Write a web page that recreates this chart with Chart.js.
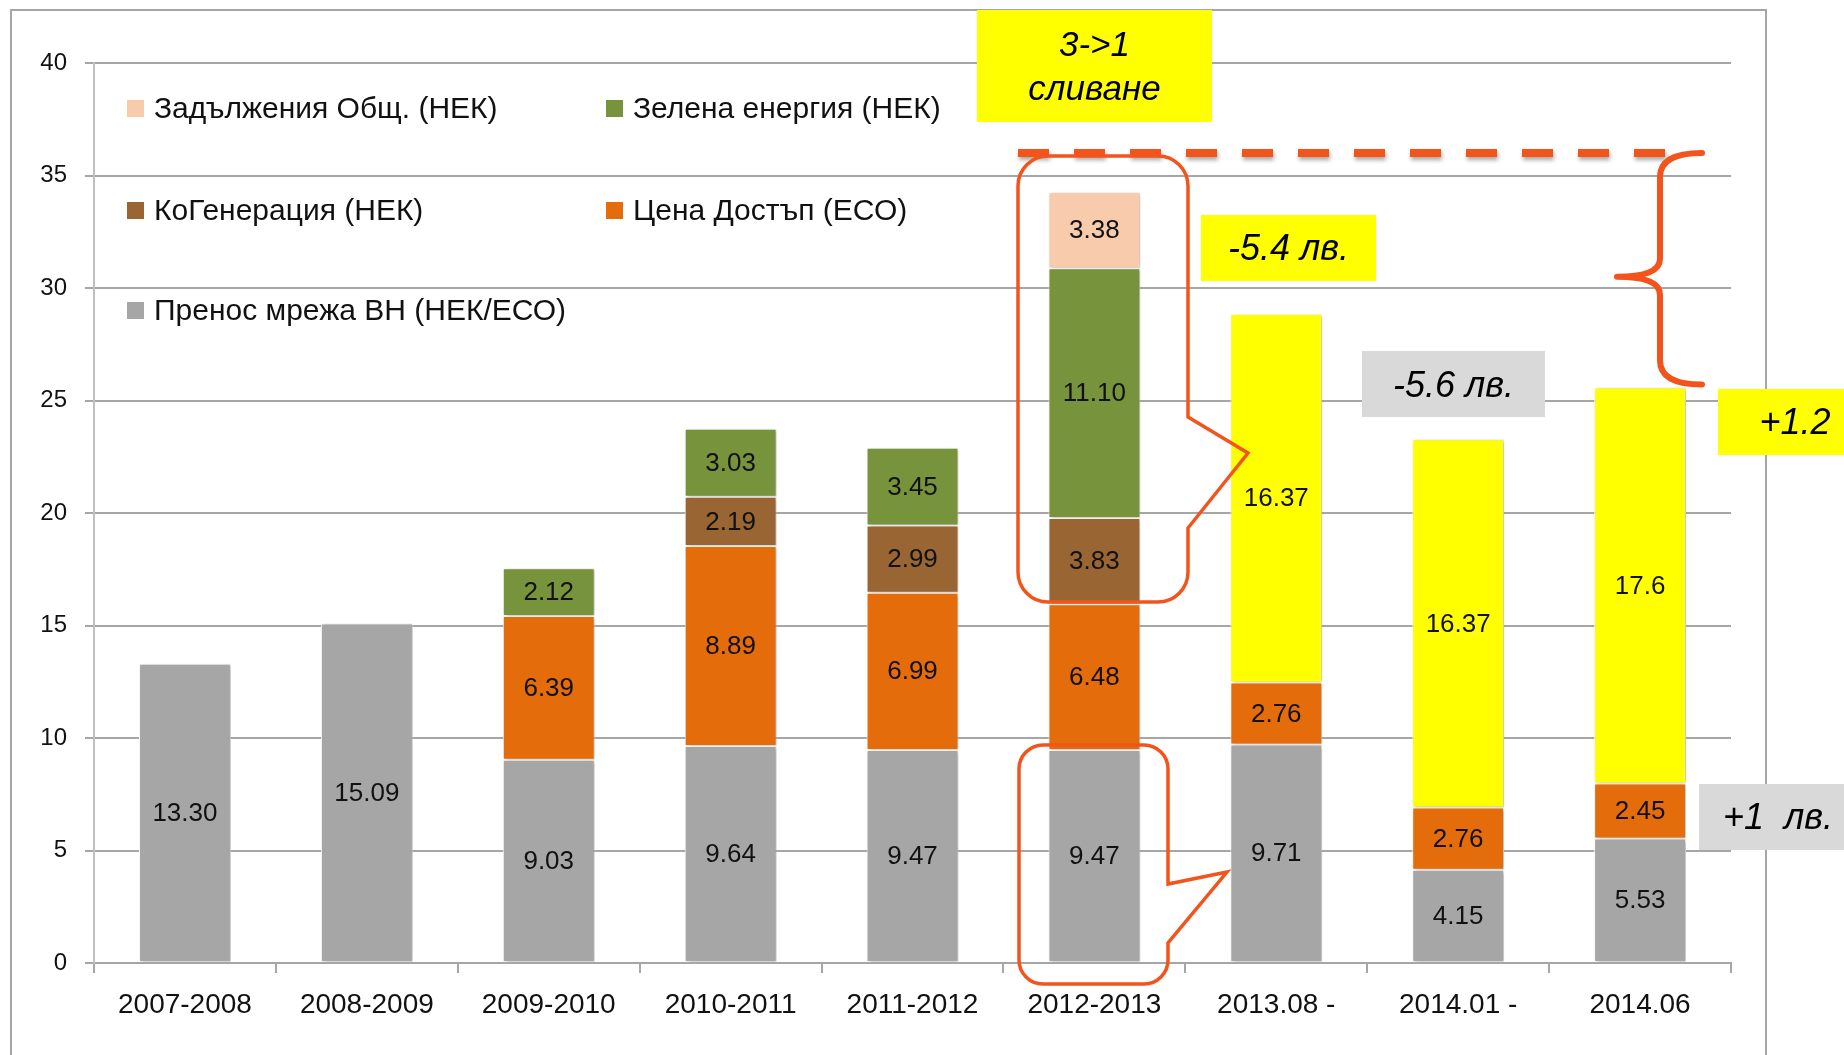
<!DOCTYPE html>
<html>
<head>
<meta charset="utf-8">
<title>Цена пренос / достъп</title>
<script src="https://cdn.jsdelivr.net/npm/chart.js@4.4.1/dist/chart.umd.min.js"></script>
<style>
  html, body { margin:0; padding:0; background:#fff; }
  #wrap { width:1844px; height:1055px; }
</style>
</head>
<body>
<div id="wrap"><canvas id="chart" width="1844" height="1055"></canvas></div>
<script>
/* DATA */
const periods   = ["2007-2008","2008-2009","2009-2010","2010-2011","2011-2012","2012-2013","2013.08 -","2014.01 -","2014.06"];
const transfer  = [13.30, 15.09, 9.03, 9.64, 9.47, 9.47, 9.71, 4.15, 5.53];   // Пренос мрежа ВН
const access    = [null, null, 6.39, 8.89, 6.99, 6.48, 2.76, 2.76, 2.45];     // Цена Достъп
const cogen     = [null, null, null, 2.19, 2.99, 3.83, null, null, null];     // КоГенерация
const green     = [null, null, 2.12, 3.03, 3.45, 11.10, null, null, null];    // Зелена енергия
const publicObl = [null, null, null, null, null, 3.38, null, null, null];     // Задължения Общ.
const merged    = [null, null, null, null, null, null, 16.37, 16.37, 17.6];   // след сливането
const yTicks    = [0, 5, 10, 15, 20, 25, 30, 35, 40];

/* STYLE */
const FONT = '"Liberation Sans", Arial, sans-serif';
const C_GRAY = "#A6A6A6", C_ORANGE = "#E46C0A", C_BROWN = "#996633",
      C_GREEN = "#77933C", C_PEACH = "#F8CBAD", C_YELLOW = "#FFFF00";
const C_LINE = "#F2541B";

const series = [
  { label:"Пренос мрежа ВН (НЕК/ЕСО)", data:transfer,  color:C_GRAY,   dec:2 },
  { label:"Цена Достъп (ЕСО)",        data:access,    color:C_ORANGE, dec:2 },
  { label:"КоГенерация (НЕК)",        data:cogen,     color:C_BROWN,  dec:2 },
  { label:"Зелена енергия (НЕК)",     data:green,     color:C_GREEN,  dec:2 },
  { label:"Задължения Общ. (НЕК)",    data:publicObl, color:C_PEACH,  dec:2 },
  { label:"",                          data:merged,    color:C_YELLOW, dec:null }
];

/* PLUGINS */
// soft shadow behind bars (Excel look)
const barShadow = {
  id:"barShadow",
  beforeDatasetsDraw(chart){
    const ctx = chart.ctx;
    ctx.save();
    ctx.shadowColor = "rgba(0,0,0,0.28)";
    ctx.shadowBlur = 4; ctx.shadowOffsetX = 2; ctx.shadowOffsetY = 1;
  },
  afterDatasetsDraw(chart){ chart.ctx.restore(); }
};

// numbers in the middle of every segment
const segLabels = {
  id:"segLabels",
  afterDatasetsDraw(chart){
    const ctx = chart.ctx;
    ctx.save();
    ctx.font = `26px ${FONT}`; ctx.fillStyle = "#111";
    ctx.textAlign = "center"; ctx.textBaseline = "middle";
    chart.data.datasets.forEach((ds, di)=>{
      const meta = chart.getDatasetMeta(di);
      meta.data.forEach((bar, i)=>{
        const v = ds.data[i];
        if(v == null) return;
        const p = bar.getProps(["x","y","base"], true);
        const txt = series[di].dec == null ? String(v) : v.toFixed(series[di].dec);
        ctx.fillText(txt, p.x, (p.y + p.base)/2 + 1);
      });
    });
    ctx.restore();
  }
};

function callout(ctx, l, t, r, b, rad, p){
  ctx.beginPath();
  ctx.moveTo(l+rad, t);
  ctx.lineTo(r-rad, t);
  ctx.arcTo(r, t, r, t+rad, rad);
  ctx.lineTo(r, p[0]);
  ctx.lineTo(p[1], p[2]);
  ctx.lineTo(r, p[3]);
  ctx.lineTo(r, b-rad);
  ctx.arcTo(r, b, r-rad, b, rad);
  ctx.lineTo(l+rad, b);
  ctx.arcTo(l, b, l, b-rad, rad);
  ctx.lineTo(l, t+rad);
  ctx.arcTo(l, t, l+rad, t, rad);
  ctx.closePath();
  ctx.stroke();
}

// filled box with text lines at given y positions
function box(ctx, x, y, w, h, fill, lines, font, tx){
  ctx.fillStyle = fill;
  ctx.fillRect(x, y, w, h);
  ctx.fillStyle = "#000";
  ctx.font = font;
  ctx.textAlign = "center"; ctx.textBaseline = "middle";
  const cx = tx == null ? x + w/2 : tx;
  lines.forEach(([s, ly])=> ctx.fillText(s, cx, ly));
}

// frame, legend, annotations
const overlay = {
  id:"overlay",
  afterDraw(chart){
    const ctx = chart.ctx, yS = chart.scales.y;
    ctx.save();

    // outer frame
    ctx.strokeStyle = "#A6A6A6"; ctx.lineWidth = 2;
    ctx.strokeRect(11, 10, 1755, 1100);

    // legend (inside plot, two columns)
    const leg = [
      [4, 127, 108], [3, 606, 108],
      [2, 127, 210], [1, 606, 210],
      [0, 127, 310]
    ];
    ctx.font = `30px ${FONT}`; ctx.textAlign = "left"; ctx.textBaseline = "middle";
    leg.forEach(([si, x, y])=>{
      ctx.fillStyle = series[si].color;
      ctx.fillRect(x, y-8, 17, 17);
      ctx.fillStyle = "#111";
      ctx.fillText(series[si].label, x+27, y+2);
    });

    // dashed level line with shadow
    const yTop = yS.getPixelForValue(36);
    const lastTot = transfer[8] + access[8] + merged[8];
    const yBot = yS.getPixelForValue(lastTot) - 3;
    ctx.save();
    ctx.shadowColor = "rgba(0,0,0,0.35)"; ctx.shadowBlur = 4; ctx.shadowOffsetY = 3; ctx.shadowOffsetX = 1;
    ctx.strokeStyle = C_LINE; ctx.lineWidth = 8;
    ctx.setLineDash([31, 25]);
    ctx.beginPath(); ctx.moveTo(1018, yTop); ctx.lineTo(1666, yTop); ctx.stroke();
    ctx.restore();

    // curly brace
    const bx = 1660, tipX = 1617, armX = 1702, mid = (yTop + yBot)/2 + 8;
    ctx.strokeStyle = C_LINE; ctx.lineWidth = 6; ctx.lineCap = "round"; ctx.lineJoin = "round";
    ctx.beginPath();
    ctx.moveTo(armX, yTop);
    ctx.quadraticCurveTo(bx, yTop, bx, yTop + 24);
    ctx.lineTo(bx, mid - 18);
    ctx.quadraticCurveTo(bx, mid, tipX, mid);
    ctx.quadraticCurveTo(bx, mid, bx, mid + 18);
    ctx.lineTo(bx, yBot - 24);
    ctx.quadraticCurveTo(bx, yBot, armX, yBot);
    ctx.stroke();

    // callouts round 2012-2013
    ctx.lineWidth = 3.5; ctx.lineCap = "butt"; ctx.lineJoin = "miter";
    callout(ctx, 1018, 156, 1188, 602, 30, [417, 1248, 453, 528]);
    callout(ctx, 1019, 745, 1168, 984, 24, [884, 1227, 872, 943]);

    // text boxes
    const it = (s)=>`italic ${s}px ${FONT}`;
    box(ctx, 977, 10, 235, 112, C_YELLOW, [["3->1", 46], ["сливане", 90]], it(35));
    box(ctx, 1201, 215, 175, 66, C_YELLOW, [["-5.4 лв.", 250]], it(36));
    box(ctx, 1362, 351, 183, 66, "#D9D9D9", [["-5.6 лв.", 387]], it(36));
    box(ctx, 1718, 389, 140, 66, C_YELLOW, [["+1.2", 424]], it(36), 1795);
    box(ctx, 1699, 784, 160, 66, "#D9D9D9", [["+1  лв.", 819]], it(36), 1778);

    ctx.restore();
  }
};

/* CHART */
new Chart(document.getElementById("chart"), {
  type:"bar",
  data:{
    labels: periods,
    datasets: series.map(s=>({
      label: s.label,
      data: s.data,
      backgroundColor: s.color,
      borderColor: "#FFFFFF",
      borderWidth: 1,
      borderSkipped: false,
      categoryPercentage: 1,
      barPercentage: 0.505
    }))
  },
  options:{
    responsive:false,
    animation:false,
    devicePixelRatio:1,
    layout:{ padding:{ left:0, top:63, right:113, bottom:0 } },
    plugins:{ legend:{ display:false }, tooltip:{ enabled:false } },
    scales:{
      x:{
        stacked:true,
        grid:{ drawOnChartArea:false, drawTicks:true, tickLength:10, color:"#A6A6A6", lineWidth:2, offset:true },
        border:{ color:"#A6A6A6", width:2 },
        ticks:{ font:{ family:FONT, size:28 }, color:"#111", padding:15, maxRotation:0, autoSkip:false },
        afterFit(s){ s.height = 92; }
      },
      y:{
        stacked:true, min:0, max:40,
        afterBuildTicks(s){ s.ticks = yTicks.map(v=>({ value:v })); },
        grid:{ color:"#A6A6A6", lineWidth:2, tickLength:9 },
        border:{ color:"#BFBFBF", width:2 },
        ticks:{ font:{ family:FONT, size:24 }, color:"#111", padding:18 },
        afterFit(s){ s.width = 94; }
      }
    }
  },
  plugins:[barShadow, segLabels, overlay]
});
</script>
</body>
</html>
